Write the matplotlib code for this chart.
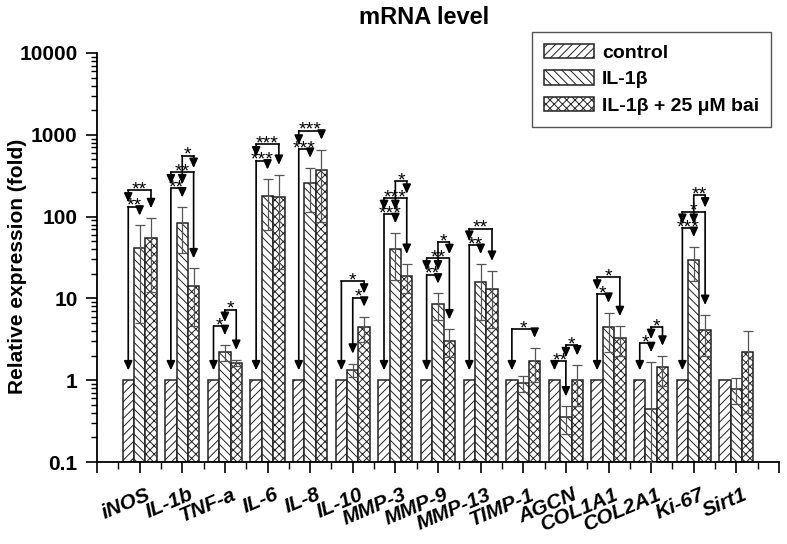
import numpy as np
import matplotlib
matplotlib.use('Agg')
import matplotlib.pyplot as plt
import matplotlib.transforms as mtransforms
from matplotlib.ticker import FixedLocator, FixedFormatter, NullFormatter

plt.rcParams['font.family'] = ['Liberation Sans', 'DejaVu Sans']
plt.rcParams['hatch.linewidth'] = 0.7

genes = ['iNOS', 'IL-1b', 'TNF-a', 'IL-6', 'IL-8', 'IL-10', 'MMP-3', 'MMP-9',
         'MMP-13', 'TIMP-1', 'AGCN', 'COL1A1', 'COL2A1', 'Ki-67', 'Sirt1']
control = [1, 1, 1, 1, 1, 1, 1, 1, 1, 1, 1, 1, 1, 1, 1]
il1b = [41.5, 83, 2.2, 177, 255, 1.35, 40, 8.5, 16, 0.92, 0.35, 4.47, 0.44, 29.6, 0.79]
il1b_err = [36.5, 47, 0.5, 108, 142, 0.25, 23, 3.0, 10.5, 0.21, 0.13, 2.23, 1.23, 13.1, 0.28]
bai = [54, 14, 1.63, 174, 374, 4.47, 19, 3.05, 13.1, 1.72, 1.0, 3.3, 1.43, 4.15, 2.2]
bai_err = [42, 9.4, 0.15, 151, 287, 1.53, 7.5, 1.15, 8.7, 0.78, 0.52, 1.3, 0.57, 2.15, 1.8]

# significance marks, bottom to top inside each gene (0 = control, 1 = IL-1b, 2 = bai)
sig_gene = [0, 0, 1, 1, 1, 2, 2, 3, 3, 4, 4, 5, 5, 6, 6, 6, 7, 7, 7, 8, 8, 9,
            10, 10, 11, 11, 12, 12, 13, 13, 13]
sig_left = [0, 0, 0, 0, 1, 0, 1, 0, 0, 0, 0, 1, 0, 0, 0, 1, 0, 0, 1, 0, 0, 0,
            0, 1, 0, 0, 0, 1, 0, 0, 1]
sig_right = [1, 2, 1, 2, 2, 1, 2, 1, 2, 1, 2, 2, 2, 1, 2, 2, 1, 2, 2, 1, 2, 2,
             1, 2, 1, 2, 1, 2, 1, 2, 2]
sig_stars = ['**', '**', '**', '**', '*', '*', '*', '***', '***', '***', '***',
             '*', '*', '***', '***', '*', '**', '**', '*', '**', '**', '*',
             '**', '*', '*', '*', '*', '*', '***', '*', '**']

legend_labels = ['control', 'IL-1\u03b2', 'IL-1\u03b2 + 25 \u03bcM bai']

fig = plt.figure(figsize=(7.87, 5.44), dpi=100)
ax = fig.add_axes([97 / 787, 82 / 544, 682 / 787, 409 / 544])

x = np.arange(1, len(genes) + 1)
w = 0.2667
ec = '#222222'
series = [(control, None, '////'), (il1b, il1b_err, '\\\\\\\\'), (bai, bai_err, 'xxxx')]
for k, (vals, errs, hatch) in enumerate(series):
    vals = np.array(vals, dtype=float)
    ax.bar(x + (k - 1) * w, vals - 0.1, bottom=0.1, width=w, color='white',
           edgecolor=ec, linewidth=1.1, hatch=hatch, label=legend_labels[k], zorder=2)
    if errs is not None:
        errs = np.array(errs, dtype=float)
        low = np.where(errs < vals, errs, vals - 0.101)
        ax.errorbar(x + (k - 1) * w, vals, yerr=[low, errs], fmt='none',
                    ecolor='#555555', elinewidth=0.9, capsize=3.5, capthick=0.9, zorder=3)

ax.set_yscale('log')
ax.set_ylim(0.1, 10000)
ax.set_xlim(0, 16)

# significance brackets with arrows
tops = [np.log10(control),
        np.log10(np.array(il1b) + np.array(il1b_err)),
        np.log10(np.array(bai) + np.array(bai_err))]
first_gap, step, bar_gap, br_gap = 0.23, 0.2, 0.12, 0.05
placed = {}
for g, i, j, s in zip(sig_gene, sig_left, sig_right, sig_stars):
    prev = placed.get(g, [])
    h = max(tops[b][g] for b in range(i, j + 1)) + first_gap
    if prev:
        h = max(h, prev[-1][2] + step)
    for b in (i, j):
        end = tops[b][g] + bar_gap
        for pi, pj, ph in prev:
            if b in (pi, pj):
                end = max(end, ph + br_gap)
        xb = g + 1 + (b - 1) * w
        ax.annotate('', xy=(xb, 10 ** end), xytext=(xb, 10 ** h),
                    arrowprops=dict(arrowstyle='-|>,head_length=0.55,head_width=0.25',
                                    color='black', lw=1.2, shrinkA=0, shrinkB=0), zorder=4)
    xi = g + 1 + (i - 1) * w
    xj = g + 1 + (j - 1) * w
    ax.plot([xi, xj], [10 ** h, 10 ** h], color='black', lw=1.2, zorder=4,
            solid_capstyle='projecting')
    ax.annotate(s, xy=((xi + xj) / 2, 10 ** h), xytext=(0, -3), textcoords='offset points',
                ha='center', va='baseline', fontsize=14, zorder=5)
    prev.append((i, j, h))
    placed[g] = prev

# axes styling
for side in ['top', 'right']:
    ax.spines[side].set_visible(False)
for side in ['left', 'bottom']:
    ax.spines[side].set_linewidth(1.3)

yt = [0.1, 1, 10, 100, 1000, 10000]
ax.yaxis.set_major_locator(FixedLocator(yt))
ax.yaxis.set_major_formatter(FixedFormatter(['0.1', '1', '10', '100', '1000', '10000']))
ax.yaxis.set_minor_locator(matplotlib.ticker.LogLocator(base=10, subs=np.arange(2, 10)))
ax.yaxis.set_minor_formatter(NullFormatter())
ax.tick_params(axis='y', which='major', length=8, width=1.2, pad=6, labelsize=15)
ax.tick_params(axis='y', which='minor', length=4, width=1.0)
for lab in ax.get_yticklabels():
    lab.set_fontweight('bold')

ax.xaxis.set_major_locator(FixedLocator(np.arange(0, 17)))
ax.xaxis.set_major_formatter(NullFormatter())
ax.xaxis.set_minor_locator(FixedLocator(np.arange(0.5, 16, 1)))
ax.tick_params(axis='x', which='major', length=8, width=1.2)
ax.tick_params(axis='x', which='minor', length=5, width=1.0)

off = mtransforms.ScaledTranslation(6 / 100, -23 / 100, fig.dpi_scale_trans)
for xi, name in zip(x, genes):
    ax.text(xi, 0, name, transform=ax.get_xaxis_transform() + off, ha='right', va='top',
            rotation=23, rotation_mode='anchor', fontsize=15, fontweight='bold',
            fontstyle='italic')

fig.text(18 / 787, 0.5 + 6 / 544, 'Relative expression (fold)', rotation=90, ha='center',
         va='center', fontsize=15, fontweight='bold')
fig.text(424 / 787, 1 - 18 / 544, 'mRNA level', ha='center', va='center', fontsize=17,
         fontweight='bold')

leg = fig.legend(loc='upper right', bbox_to_anchor=(771 / 787, 1 - 32 / 544),
                 borderaxespad=0, fancybox=False, edgecolor='#555555', framealpha=1,
                 prop={'weight': 'bold', 'size': 14}, handlelength=2.6, handleheight=0.75,
                 labelspacing=0.45, borderpad=0.6, handletextpad=0.4)
leg.get_frame().set_linewidth(1.0)

fig.savefig('out.png', dpi=100)
